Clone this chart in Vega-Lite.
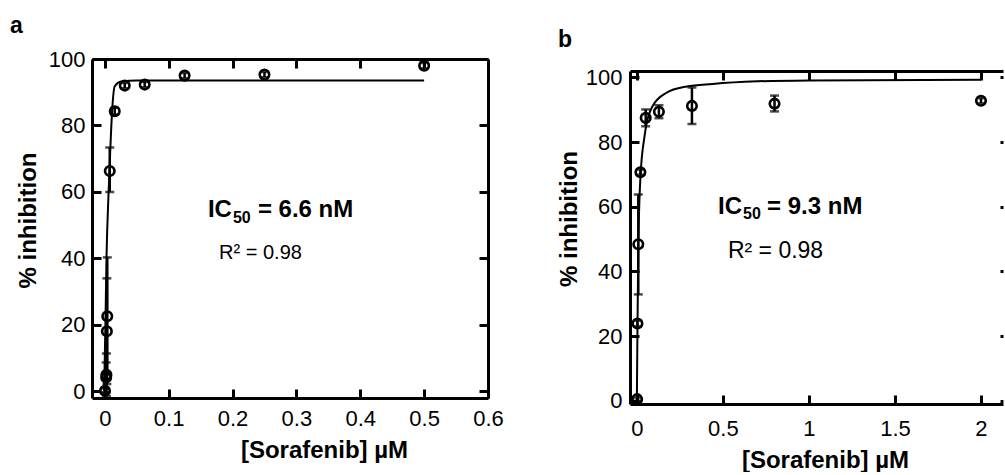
{
  "$schema": "https://vega.github.io/schema/vega-lite/v6.json",
  "padding": {"left": 10, "top": 14, "right": 0, "bottom": 0},
  "background": "white",
  "bounds": "flush",
  "spacing": 142,
  "config": {
    "font": "Liberation Sans",
    "view": {"stroke": null},
    "axis": {
      "domainColor": "black", "domainWidth": 3,
      "tickColor": "black", "tickWidth": 3, "tickSize": -9,
      "grid": false,
      "labelColor": "black", "labelFontSize": 22, "labelFont": "Liberation Sans",
      "titleFont": "Liberation Sans", "titleFontSize": 24, "titleFontWeight": "bold", "titleColor": "black"
    },
    "title": {"color": "black", "font": "Liberation Sans"}
  },
  "hconcat": [
    {
      "width": 396,
      "height": 339,
      "title": {"text": "a", "anchor": "start", "frame": "group", "dx": -82, "offset": -7.5, "baseline": "alphabetic", "fontSize": 23, "fontWeight": "bold"},
      "resolve": {"axis": {"x": "independent", "y": "independent"}},
      "layer": [
        {
          "data": {"values": [
            {"x": -0.001, "y": 0}, {"x": 0.001, "y": 20}, {"x": 0.0027, "y": 40}, {"x": 0.006, "y": 60},
            {"x": 0.0089, "y": 74}, {"x": 0.0114, "y": 84}, {"x": 0.0156, "y": 91.8}, {"x": 0.026, "y": 93.2},
            {"x": 0.05, "y": 93.5}, {"x": 0.5, "y": 93.5}
          ]},
          "mark": {"type": "line", "color": "black", "strokeWidth": 2, "interpolate": "monotone"},
          "encoding": {
            "x": {"field": "x", "type": "quantitative",
              "scale": {"domain": [-0.02, 0.6], "nice": false, "zero": false},
              "axis": {"orient": "bottom", "values": [0, 0.1, 0.2, 0.3, 0.4, 0.5, 0.6], "format": ".1~f", "labelPadding": 19, "labelFlush": false,
                "title": "[Sorafenib] µM", "titleX": 232, "titleY": 59, "titleBaseline": "alphabetic"}},
            "y": {"field": "y", "type": "quantitative",
              "scale": {"domain": [-2, 100], "nice": false, "zero": false},
              "axis": {"orient": "left", "values": [0, 20, 40, 60, 80, 100], "labelPadding": 16,
                "title": "% inhibition", "titleX": -57, "titleY": 161, "titleBaseline": "alphabetic"}}
          }
        },
        {
          "data": {"name": "ptsA", "values": [
            {"x": 0.5, "y": 98.0, "lo": 97.2, "hi": 98.8},
            {"x": 0.25, "y": 95.3, "lo": 94.5, "hi": 96.1},
            {"x": 0.125, "y": 95.0, "lo": 94.2, "hi": 95.8},
            {"x": 0.0625, "y": 92.3, "lo": 91.5, "hi": 93.1},
            {"x": 0.03125, "y": 92.0, "lo": 91.2, "hi": 92.8},
            {"x": 0.0156, "y": 84.3, "lo": 83.3, "hi": 85.3},
            {"x": 0.0078, "y": 66.3, "lo": 60.0, "hi": 73.4},
            {"x": 0.0039, "y": 22.6, "lo": 4.9, "hi": 40.3},
            {"x": 0.0033, "y": 18.1, "lo": 2.2, "hi": 34.0},
            {"x": 0.0026, "y": 5.0, "lo": -1.4, "hi": 11.4},
            {"x": 0.0022, "y": 4.2, "lo": -0.3, "hi": 8.7},
            {"x": 0.0003, "y": 0.2, "lo": -0.5, "hi": 0.9}
          ]},
          "mark": {"type": "point", "shape": "circle", "filled": false, "size": 90, "strokeWidth": 2.6, "color": "black", "opacity": 1},
          "encoding": {
            "x": {"field": "x", "type": "quantitative", "axis": {"orient": "top", "labels": false, "title": null, "values": [0, 0.1, 0.2, 0.3, 0.4, 0.5]}},
            "y": {"field": "y", "type": "quantitative", "axis": {"orient": "right", "labels": false, "title": null, "values": [0, 20, 40, 60, 80, 100]}}
          }
        },
        {
          "data": {"name": "ptsA"},
          "mark": {"type": "errorbar", "ticks": true, "size": 9, "thickness": 2.5, "color": "black"},
          "encoding": {
            "x": {"field": "x", "type": "quantitative", "axis": null},
            "y": {"field": "lo", "type": "quantitative", "axis": null},
            "y2": {"field": "hi"}
          }
        },
        {
          "data": {"values": [{"x": 0.199, "y": 52.5, "label": "IC"}]},
          "mark": {"type": "text", "align": "right", "baseline": "alphabetic", "fontSize": 24, "fontWeight": "bold", "color": "black"},
          "encoding": {"x": {"field": "x", "type": "quantitative", "axis": null}, "y": {"field": "y", "type": "quantitative", "axis": null}, "text": {"field": "label"}}
        },
        {
          "data": {"values": [{"x": 0.199, "y": 52.5, "label": "50"}]},
          "mark": {"type": "text", "align": "left", "baseline": "alphabetic", "dx": 1, "dy": 6, "fontSize": 16, "fontWeight": "bold", "color": "black"},
          "encoding": {"x": {"field": "x", "type": "quantitative", "axis": null}, "y": {"field": "y", "type": "quantitative", "axis": null}, "text": {"field": "label"}}
        },
        {
          "data": {"values": [{"x": 0.199, "y": 52.5, "label": "= 6.6 nM"}]},
          "mark": {"type": "text", "align": "left", "baseline": "alphabetic", "dx": 26, "fontSize": 24, "fontWeight": "bold", "color": "black"},
          "encoding": {"x": {"field": "x", "type": "quantitative", "axis": null}, "y": {"field": "y", "type": "quantitative", "axis": null}, "text": {"field": "label"}}
        },
        {
          "data": {"values": [{"x": 0.179, "y": 39.8, "label": "R² = 0.98"}]},
          "mark": {"type": "text", "align": "left", "baseline": "alphabetic", "fontSize": 20, "color": "black"},
          "encoding": {"x": {"field": "x", "type": "quantitative", "axis": null}, "y": {"field": "y", "type": "quantitative", "axis": null}, "text": {"field": "label"}}
        }
      ]
    },
    {
      "bounds": "flush",
      "spacing": 11,
      "vconcat": [
        {
          "width": 373,
          "height": 1,
          "data": {"values": [{"s": 0}]},
          "mark": {"type": "point", "opacity": 0},
          "encoding": {}
        },
        {
          "width": 373,
          "height": 333,
          "title": {"text": "b", "anchor": "start", "frame": "group", "dx": -72, "offset": -3.5, "baseline": "alphabetic", "fontSize": 23, "fontWeight": "bold"},
          "resolve": {"axis": {"x": "independent", "y": "independent"}},
          "layer": [
            {
              "data": {"values": [
                {"x": 0, "y": 0.5}, {"x": 0.0033, "y": 22}, {"x": 0.0082, "y": 47}, {"x": 0.0205, "y": 69},
                {"x": 0.045, "y": 82}, {"x": 0.09, "y": 91}, {"x": 0.17, "y": 95.2}, {"x": 0.29, "y": 97.2},
                {"x": 0.44, "y": 98}, {"x": 0.7, "y": 98.8}, {"x": 1.0, "y": 99.1}, {"x": 2.0, "y": 99.3}
              ]},
              "mark": {"type": "line", "color": "black", "strokeWidth": 2, "interpolate": "monotone"},
              "encoding": {
                "x": {"field": "x", "type": "quantitative",
                  "scale": {"domain": [-0.04, 2.128], "nice": false, "zero": false},
                  "axis": {"orient": "bottom", "values": [0, 0.5, 1, 1.5, 2], "format": "~g", "labelPadding": 23, "labelFlush": false,
                    "title": "[Sorafenib] µM", "titleX": 195, "titleY": 63, "titleBaseline": "alphabetic"}},
                "y": {"field": "y", "type": "quantitative",
                  "scale": {"domain": [-1, 102], "nice": false, "zero": false},
                  "axis": {"orient": "left", "values": [0, 20, 40, 60, 80, 100], "labelPadding": 17,
                    "title": "% inhibition", "titleX": -54, "titleY": 147.5, "titleBaseline": "alphabetic"}}
              }
            },
            {
              "data": {"name": "ptsB", "values": [
                {"x": 2.0, "y": 92.8, "lo": 92.0, "hi": 93.6},
                {"x": 0.8, "y": 91.9, "lo": 89.5, "hi": 94.4},
                {"x": 0.32, "y": 91.2, "lo": 85.6, "hi": 96.9},
                {"x": 0.128, "y": 89.4, "lo": 87.4, "hi": 91.4},
                {"x": 0.0512, "y": 87.5, "lo": 84.9, "hi": 90.1},
                {"x": 0.0205, "y": 70.7, "lo": 69.9, "hi": 71.5},
                {"x": 0.0082, "y": 48.4, "lo": 32.9, "hi": 63.8},
                {"x": 0.0033, "y": 23.9, "lo": 23.0, "hi": 24.8},
                {"x": 0.0013, "y": 0.5, "lo": 0.0, "hi": 1.0}
              ]},
              "mark": {"type": "point", "shape": "circle", "filled": false, "size": 90, "strokeWidth": 2.6, "color": "black", "opacity": 1},
              "encoding": {
                "x": {"field": "x", "type": "quantitative", "axis": {"orient": "top", "labels": false, "title": null, "values": [0, 0.5, 1, 1.5, 2]}},
                "y": {"field": "y", "type": "quantitative", "axis": {"orient": "right", "labels": false, "title": null, "domain": false, "tickSize": -3, "values": [0, 20, 40, 60, 80, 100]}}
              }
            },
            {
              "data": {"name": "ptsB"},
              "mark": {"type": "errorbar", "ticks": true, "size": 9, "thickness": 2.5, "color": "black"},
              "encoding": {
                "x": {"field": "x", "type": "quantitative", "axis": null},
                "y": {"field": "lo", "type": "quantitative", "axis": null},
                "y2": {"field": "hi"}
              }
            },
            {
              "data": {"values": [{"x": 0.611, "y": 57.8, "label": "IC"}]},
              "mark": {"type": "text", "align": "right", "baseline": "alphabetic", "fontSize": 24, "fontWeight": "bold", "color": "black"},
              "encoding": {"x": {"field": "x", "type": "quantitative", "axis": null}, "y": {"field": "y", "type": "quantitative", "axis": null}, "text": {"field": "label"}}
            },
            {
              "data": {"values": [{"x": 0.611, "y": 57.8, "label": "50"}]},
              "mark": {"type": "text", "align": "left", "baseline": "alphabetic", "dx": 1, "dy": 5, "fontSize": 16, "fontWeight": "bold", "color": "black"},
              "encoding": {"x": {"field": "x", "type": "quantitative", "axis": null}, "y": {"field": "y", "type": "quantitative", "axis": null}, "text": {"field": "label"}}
            },
            {
              "data": {"values": [{"x": 0.611, "y": 57.8, "label": "= 9.3 nM"}]},
              "mark": {"type": "text", "align": "left", "baseline": "alphabetic", "dx": 25, "fontSize": 24, "fontWeight": "bold", "color": "black"},
              "encoding": {"x": {"field": "x", "type": "quantitative", "axis": null}, "y": {"field": "y", "type": "quantitative", "axis": null}, "text": {"field": "label"}}
            },
            {
              "data": {"values": [{"x": 0.529, "y": 44.2, "label": "R² = 0.98"}]},
              "mark": {"type": "text", "align": "left", "baseline": "alphabetic", "fontSize": 23, "color": "black"},
              "encoding": {"x": {"field": "x", "type": "quantitative", "axis": null}, "y": {"field": "y", "type": "quantitative", "axis": null}, "text": {"field": "label"}}
            }
          ]
        }
      ]
    }
  ]
}
